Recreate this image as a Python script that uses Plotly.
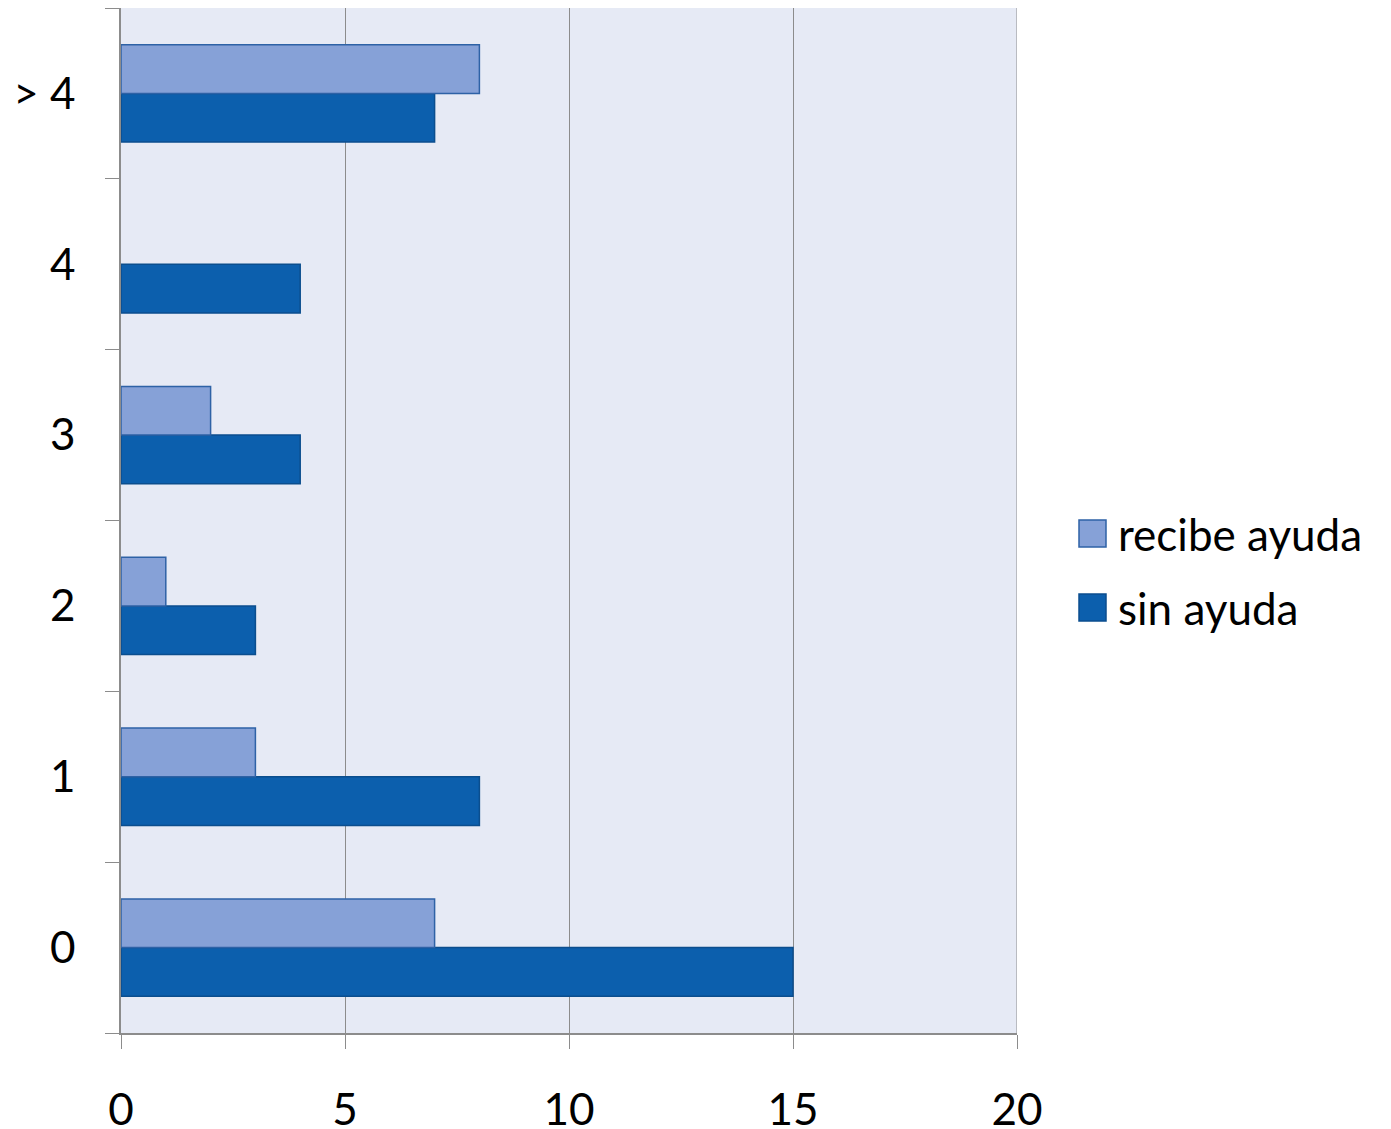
import plotly.graph_objects as go

categories = ["0", "1", "2", "3", "4", "> 4"]
recibe_ayuda = [7, 3, 1, 2, 0, 8]
sin_ayuda = [15, 8, 3, 4, 4, 7]
x_ticks = [0, 5, 10, 15, 20]

series_names = ["recibe ayuda", "sin ayuda"]
series_colors = ["#86A1D7", "#0C5FAD"]
series_edges = ["#2E62A6", "#0B4E8E"]

FONT = "Lato, Open Sans, sans-serif"
OFF = 8  # browser default body margin
W, H = 1391 - OFF, 1129 - OFF
L, R, T, B = 121 - OFF, 1391 - 1017, 8 - OFF, 1129 - 1033

def edge_widths(vals):
    return [1.5 if v > 0 else 0 for v in vals]

fig = go.Figure()
fig.add_trace(go.Bar(
    y=categories, x=sin_ayuda, orientation="h", name=series_names[1],
    marker=dict(color=series_colors[1],
                line=dict(color=series_edges[1], width=edge_widths(sin_ayuda))),
    showlegend=False,
))
fig.add_trace(go.Bar(
    y=categories, x=recibe_ayuda, orientation="h", name=series_names[0],
    marker=dict(color=series_colors[0],
                line=dict(color=series_edges[0], width=edge_widths(recibe_ayuda))),
    showlegend=False,
))

# custom legend (large swatches) in paper coordinates; page pixel inputs
pw, ph = W - L - R, H - T - B
def px_to_paper(xp, yp):
    xp -= OFF
    yp -= OFF
    return (xp - L) / pw, (H - B - yp) / ph

shapes, annotations = [], []
for i, (nm, c, e) in enumerate(zip(series_names, series_colors, series_edges)):
    top = 520 + i * 74
    x0, y0 = px_to_paper(1079, top)
    x1, y1 = px_to_paper(1106, top + 27)
    shapes.append(dict(type="rect", xref="paper", yref="paper", x0=x0, x1=x1, y0=y1, y1=y0,
                       fillcolor=c, line=dict(color=e, width=1.5)))
    tx, ty = px_to_paper(1116, top + 13.5)
    annotations.append(dict(xref="paper", yref="paper", x=tx, y=ty, xanchor="left",
                            yanchor="middle", text=nm, showarrow=False,
                            font=dict(family=FONT, size=44, color="black")))

# gridline at the right edge of the plot area
shapes.append(dict(type="line", xref="x", yref="paper", x0=x_ticks[-1], x1=x_ticks[-1],
                   y0=0, y1=1, line=dict(color="#8C8C8C", width=1), layer="below"))

fig.update_layout(
    width=W, height=H,
    margin=dict(l=L, r=R, t=T, b=B, autoexpand=False),
    barmode="group", bargap=0.43, bargroupgap=0,
    plot_bgcolor="#E6EAF5", paper_bgcolor="white",
    font=dict(family=FONT, size=44, color="black"),
    showlegend=False,
    shapes=shapes, annotations=annotations,
)
fig.update_xaxes(
    range=[0, 20], tickvals=x_ticks, ticktext=[str(v) for v in x_ticks],
    showgrid=True, gridcolor="#8C8C8C", gridwidth=1,
    showline=True, linecolor="#8C8C8C", linewidth=1.5,
    ticks="outside", ticklen=14, tickcolor="#8C8C8C",
    ticklabelstandoff=23, zeroline=False, automargin=False,
)
fig.update_yaxes(
    categoryorder="array", categoryarray=categories,
    showgrid=False, showline=True, linecolor="#8C8C8C", linewidth=1.5,
    ticks="outside", ticklen=14, tickcolor="#8C8C8C", tickson="boundaries",
    ticklabelstandoff=35, zeroline=False, automargin=False,
)
fig.write_html("out.html")
